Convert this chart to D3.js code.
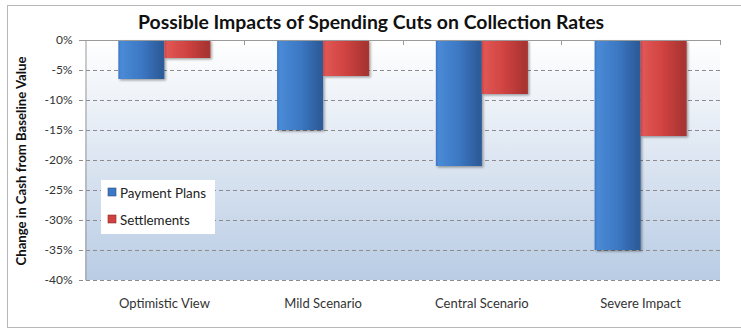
<!DOCTYPE html>
<html><head><meta charset="utf-8">
<script src="https://cdn.jsdelivr.net/npm/d3@7"></script>
<style>body{margin:0;background:#fff}svg{display:block}</style>
</head><body>
<svg id="c" width="741" height="329"></svg>
<script>
const categories = ["Optimistic View","Mild Scenario","Central Scenario","Severe Impact"];
const seriesNames = ["Payment Plans","Settlements"];
const paymentPlans = [-6.5,-15,-21,-35];
const settlements = [-3,-6,-9,-16];
const yTicks = [0,-5,-10,-15,-20,-25,-30,-35,-40];
const title = "Possible Impacts of Spending Cuts on Collection Rates";
const yLabel = "Change in Cash from Baseline Value";

const svg = d3.select("#c");
const m={l:85,r:720,t:40,b:280};
const font = "Lato, 'Open Sans', sans-serif";

svg.append("rect").attr("x",7.5).attr("y",5.5).attr("width",760).attr("height",322)
  .attr("fill","#fff").attr("stroke","#b8b8b8").attr("stroke-width",1);

const defs = svg.append("defs");
const bg = defs.append("linearGradient").attr("id","bg").attr("x1",0).attr("x2",0).attr("y1",0).attr("y2",1);
bg.append("stop").attr("offset",0).attr("stop-color","#ffffff");
bg.append("stop").attr("offset",1).attr("stop-color","#b9cce4");

function barGrad(id, light, mid, dark){
  const g = defs.append("linearGradient").attr("id",id).attr("x1",0).attr("x2",1).attr("y1",0).attr("y2",0);
  g.append("stop").attr("offset",0).attr("stop-color",mid);
  g.append("stop").attr("offset",0.06).attr("stop-color",light);
  g.append("stop").attr("offset",0.5).attr("stop-color",mid);
  g.append("stop").attr("offset",0.93).attr("stop-color",dark);
  g.append("stop").attr("offset",1).attr("stop-color",dark);
}
barGrad("gb","#4a8ad6","#3c78c4","#2d5c9a");
barGrad("gr","#e05654","#cf4240","#a83432");
const sh = defs.append("filter").attr("id","sh").attr("x","-20%").attr("y","-20%").attr("width","150%").attr("height","150%");
sh.append("feDropShadow").attr("dx",1.5).attr("dy",1.5).attr("stdDeviation",1.2).attr("flood-color","#000").attr("flood-opacity",0.35);

const x = d3.scaleBand().domain(categories).range([m.l,m.r]).paddingInner(0.42).paddingOuter(0.21);
const xs = d3.scaleBand().domain(seriesNames).range([0,x.bandwidth()]);
const xb = d3.scaleBand().domain(categories).range([m.l,m.r]);
const y = d3.scaleLinear().domain([-40,0]).range([m.b,m.t]);

svg.append("rect").attr("x",m.l).attr("y",m.t).attr("width",m.r-m.l).attr("height",m.b-m.t).attr("fill","url(#bg)");

svg.append("g").selectAll("line").data(yTicks.filter(d=>d!==0)).join("line")
  .attr("x1",m.l-6).attr("x2",m.r).attr("y1",d=>Math.round(y(d))+0.5).attr("y2",d=>Math.round(y(d))+0.5)
  .attr("stroke","#8c8c8c").attr("stroke-dasharray","4,3");

const ya = svg.append("g").attr("transform",`translate(${m.l+0.5},0)`)
  .call(d3.axisLeft(y).tickValues(yTicks).tickFormat(d=>d+"%").tickSize(0).tickPadding(13));
ya.select(".domain").attr("stroke","#9a9a9a");
ya.selectAll("text").attr("font-family",font).attr("font-size",12).attr("fill","#333");

const leg = svg.append("g");
leg.append("rect").attr("x",101).attr("y",180).attr("width",114).attr("height",54).attr("fill","#fff");

const data = categories.map((c,i)=>({c, vals:[{s:seriesNames[0],v:paymentPlans[i]},{s:seriesNames[1],v:settlements[i]}]}));
const gb = svg.append("g");
data.forEach(d=>{
  d.vals.forEach(v=>{
    gb.append("rect").attr("x",x(d.c)+xs(v.s)).attr("y",y(0)).attr("width",xs.bandwidth())
      .attr("height",y(v.v)-y(0)).attr("fill",v.s===seriesNames[0]?"url(#gb)":"url(#gr)")
      .attr("filter","url(#sh)");
  });
});

svg.append("line").attr("x1",m.l-6).attr("x2",m.r).attr("y1",y(0)+0.5).attr("y2",y(0)+0.5).attr("stroke","#9a9a9a");
svg.append("g").selectAll("line").data(categories).join("line")
  .attr("x1",d=>Math.round(xb(d)+xb.bandwidth())+0.5).attr("x2",d=>Math.round(xb(d)+xb.bandwidth())+0.5)
  .attr("y1",y(0)).attr("y2",y(0)+5).attr("stroke","#9a9a9a");

svg.append("g").selectAll("text").data(categories).join("text")
  .attr("x",d=>xb(d)+xb.bandwidth()/2).attr("y",308).attr("text-anchor","middle")
  .attr("font-family",font).attr("font-size",13).attr("fill","#333").text(d=>d);

const colors = ["#3c78c4","#cf4240"];
seriesNames.forEach((s,i)=>{
  const yy = 193 + i*27;
  leg.append("rect").attr("x",108).attr("y",yy-5).attr("width",8).attr("height",8).attr("fill",colors[i]).attr("stroke",i?"#8a2a28":"#2a5088").attr("stroke-width",0.6);
  leg.append("text").attr("x",120).attr("y",yy+4.5).attr("font-family",font).attr("font-size",13.4).attr("fill","#222").text(s);
});

svg.append("text").attr("x",371).attr("y",29).attr("text-anchor","middle")
  .attr("font-family",font).attr("font-weight","bold").attr("font-size",19.4).attr("fill","#111").text(title);

svg.append("text").attr("transform","translate(26,161) rotate(-90)").attr("text-anchor","middle")
  .attr("font-family",font).attr("font-weight","bold").attr("font-size",13.2).attr("fill","#111").text(yLabel);
</script>
</body></html>
